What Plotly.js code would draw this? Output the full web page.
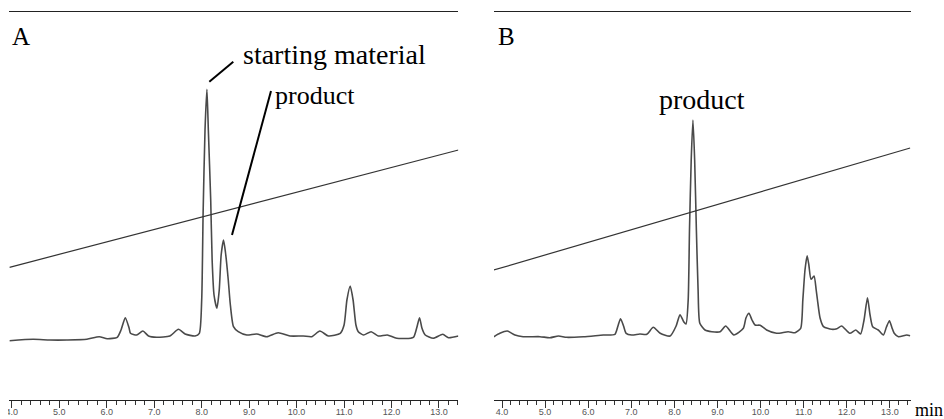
<!DOCTYPE html>
<html>
<head>
<meta charset="utf-8">
<script src="https://cdn.plot.ly/plotly-3.0.1.min.js"></script>
<style>html,body{margin:0;padding:0;background:#fff;}#chart{width:944px;height:419px;}</style>
</head>
<body>
<div id="chart"></div>
<script>
// Panel A: reaction mixture chromatogram (time in min, signal in arbitrary units)
const A_time = [3.95,4.45,4.80,5.16,5.58,5.84,6.01,6.22,6.30,6.39,6.47,6.50,6.63,6.76,6.88,7.05,7.33,7.51,7.65,7.86,7.95,8.00,8.03,8.07,8.11,8.14,8.19,8.22,8.26,8.32,8.37,8.41,8.46,8.50,8.56,8.60,8.67,8.77,8.95,9.16,9.37,9.61,9.86,10.14,10.32,10.49,10.67,10.92,11.00,11.06,11.13,11.19,11.25,11.30,11.41,11.57,11.72,11.91,12.11,12.46,12.53,12.59,12.64,12.71,12.88,13.08,13.20,13.41];
const A_signal = [-0.7,0.7,0,0,0.7,3.3,1.3,2.7,10,22.3,12,6.7,5,9,4,2.7,4,10.7,6,4,6.7,40,127,210,250.7,210,140,80,45,31.7,50,85,100,88,60,37,13.3,8.3,5,6,3.3,7.3,4,4,3.3,9,4,6.7,15,40,54,40,15,8.3,5,8.3,4,5,1.7,2.7,12,22.3,12,5,1.7,5.7,2.3,4];
// Panel B: purified product chromatogram
const B_time = [3.81,3.95,4.12,4.30,4.49,4.88,5.11,5.31,5.50,5.89,6.35,6.62,6.69,6.75,6.82,6.88,7.01,7.20,7.36,7.51,7.67,7.90,8.04,8.13,8.22,8.27,8.32,8.35,8.39,8.43,8.47,8.51,8.55,8.59,8.71,8.87,9.06,9.19,9.38,9.60,9.66,9.73,9.80,9.87,9.99,10.14,10.37,10.64,10.80,10.93,10.98,11.03,11.08,11.12,11.17,11.24,11.29,11.32,11.38,11.46,11.65,11.77,11.88,12.07,12.21,12.32,12.40,12.48,12.54,12.60,12.73,12.85,12.92,12.99,13.05,13.10,13.20,13.39,13.47];
const B_signal = [3.3,6.7,9,5,3.3,3.3,2.3,4,2.7,3.3,5,5.7,14,21.3,14,6.7,5,6,5.7,12.7,6.7,4,14,25.3,18,16,40,110,180,220,180,110,50,16.7,10,8.3,8.3,14,5,11.7,22,26.7,20,15,14.7,10,6.7,8.3,7.3,11.7,40,70,84.3,75,60.7,64,50,40,22,13.3,10.7,11.3,14,6.7,10,6,20,42.3,25,13.3,10,5,13,19.3,12,6.7,3.3,5,4.3];
// Gradient lines (start/end of run)
const A_grad_time = [3.95, 13.41];
const A_grad_level = [72.7, 190];
const B_grad_time = [3.81, 13.47];
const B_grad_level = [70, 192];
// Axis ticks
const tickStart = 4, tickStep = 1, minorStep = 0.2;

const W = 944, H = 419;
const px = x => x / W;
const py = y => 1 - y / H;

const traceStyle = {color: '#4a4a4a', width: 1.6, shape: 'spline', smoothing: 0.6};
const gradStyle = {color: '#333', width: 1.2};

const data = [
  {x: A_time, y: A_signal, xaxis: 'x', yaxis: 'y', mode: 'lines', line: traceStyle, hoverinfo: 'skip'},
  {x: A_grad_time, y: A_grad_level, xaxis: 'x', yaxis: 'y', mode: 'lines', line: gradStyle, hoverinfo: 'skip'},
  {x: B_time, y: B_signal, xaxis: 'x2', yaxis: 'y2', mode: 'lines', line: traceStyle, hoverinfo: 'skip'},
  {x: B_grad_time, y: B_grad_level, xaxis: 'x2', yaxis: 'y2', mode: 'lines', line: gradStyle, hoverinfo: 'skip'}
];

function xax(domain, range) {
  return {
    domain: domain, range: range, showgrid: false, zeroline: false,
    showline: true, linecolor: '#222', linewidth: 1.3, mirror: true,
    ticks: 'outside', ticklen: 7, tickwidth: 1, tickcolor: '#333',
    tick0: tickStart, dtick: tickStep, tickformat: '.1f',
    ticklabelstandoff: -4,
    tickfont: {family: 'Liberation Sans, Arial, sans-serif', size: 9, color: '#555'},
    minor: {ticks: 'outside', ticklen: 4, tickwidth: 1, tickcolor: '#333', dtick: minorStep, tick0: tickStart, showgrid: false},
    fixedrange: true
  };
}
function yax(anchor) {
  return {domain: [py(400), py(12.3)], range: [-60, 327.7], visible: false, showgrid: false, zeroline: false, fixedrange: true, anchor: anchor};
}

const serif = 'Liberation Serif, Times New Roman, serif';
const layout = {
  width: W, height: H,
  margin: {l: 0, r: 0, t: 0, b: 0},
  paper_bgcolor: '#fff', plot_bgcolor: '#fff',
  showlegend: false,
  xaxis: Object.assign(xax([px(9.3), px(458.3)], [3.946, 13.407]), {anchor: 'y'}),
  yaxis: yax('x'),
  xaxis2: Object.assign(xax([px(494), px(910.7)], [3.814, 13.483]), {anchor: 'y2'}),
  yaxis2: yax('x2'),
  shapes: [
    {type: 'line', xref: 'paper', yref: 'paper', x0: px(209.3), y0: py(81.7), x1: px(233.3), y1: py(61.7), line: {color: '#000', width: 2}},
    {type: 'line', xref: 'paper', yref: 'paper', x0: px(232), y0: py(235), x1: px(271), y1: py(91), line: {color: '#000', width: 2}},
    {type: 'rect', xref: 'paper', yref: 'paper', x0: 0, x1: px(8), y0: 0, y1: py(403), fillcolor: '#fff', line: {width: 0}, layer: 'above'}
  ],
  annotations: [
    {text: 'A', xref: 'paper', yref: 'paper', x: px(10), y: py(36), xanchor: 'left', yanchor: 'middle', showarrow: false, font: {family: serif, size: 25, color: '#000'}},
    {text: 'B', xref: 'paper', yref: 'paper', x: px(496), y: py(36), xanchor: 'left', yanchor: 'middle', showarrow: false, font: {family: serif, size: 25, color: '#000'}},
    {text: 'starting material', xref: 'paper', yref: 'paper', x: px(241), y: py(54), xanchor: 'left', yanchor: 'middle', showarrow: false, font: {family: serif, size: 28, color: '#000'}},
    {text: 'product', xref: 'paper', yref: 'paper', x: px(273), y: py(96), xanchor: 'left', yanchor: 'middle', showarrow: false, font: {family: serif, size: 26, color: '#000'}},
    {text: 'product', xref: 'paper', yref: 'paper', x: px(657), y: py(99), xanchor: 'left', yanchor: 'middle', showarrow: false, font: {family: serif, size: 28, color: '#000'}},
    {text: 'min', xref: 'paper', yref: 'paper', x: px(913), y: py(410), xanchor: 'left', yanchor: 'middle', showarrow: false, font: {family: serif, size: 18, color: '#000'}}
  ]
};

Plotly.newPlot('chart', data, layout, {staticPlot: true, displayModeBar: false});
</script>
</body>
</html>
